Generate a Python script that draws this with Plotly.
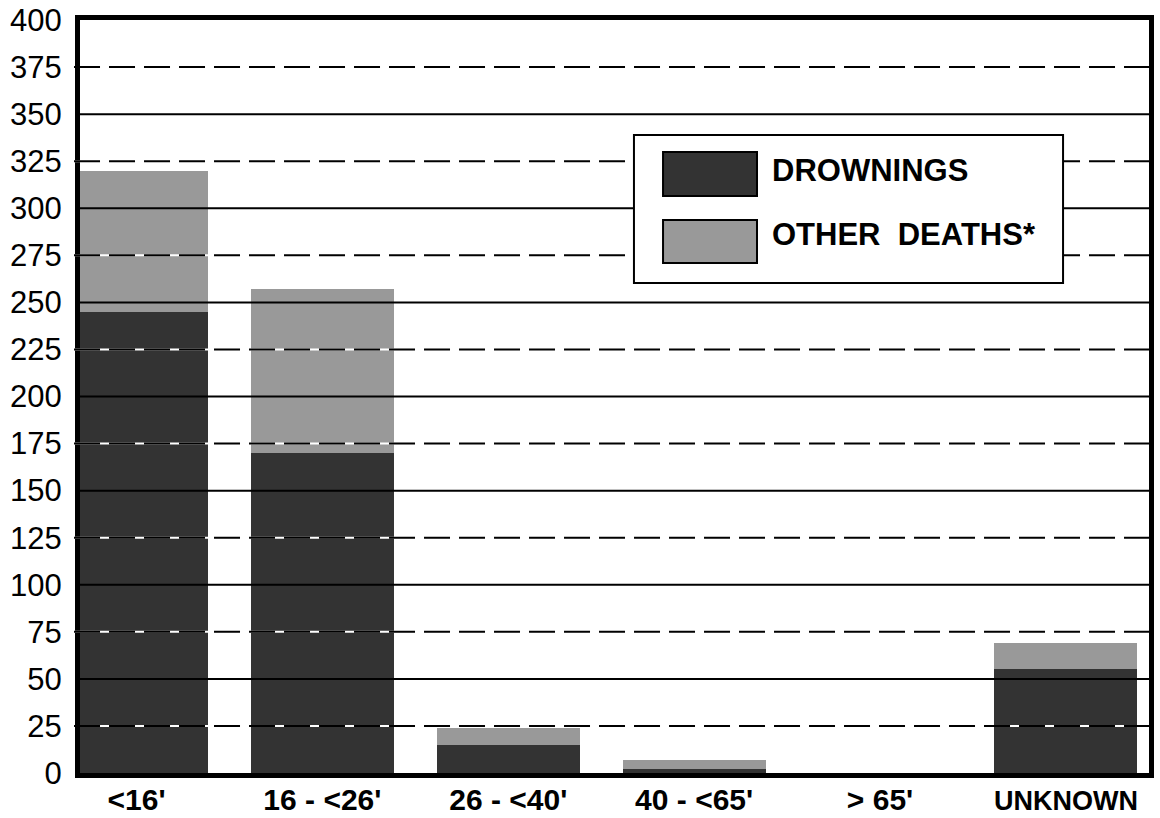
import plotly.graph_objects as go

# ---- data ----
categories = ["<16'", "16 - <26'", "26 - <40'", "40 - <65'", "> 65'", "UNKNOWN"]
drownings = [245, 170, 15, 2, 0, 55]
other_deaths = [75, 87, 9, 5, 0, 14]
y_tick_values = list(range(0, 401, 25))
solid_grid = list(range(50, 351, 50))
dashed_grid = list(range(25, 376, 50))
series_names = ["DROWNINGS", "OTHER\u00a0 DEATHS*"]

DARK = "#333333"
GRAY = "#999999"
FONT = "Liberation Sans, Arial, sans-serif"

fig = go.Figure()
fig.add_trace(go.Bar(x=categories, y=drownings, name=series_names[0],
                     marker=dict(color=DARK, line=dict(width=0)), showlegend=False))
fig.add_trace(go.Bar(x=categories, y=other_deaths, name=series_names[1],
                     marker=dict(color=GRAY, line=dict(width=0)), showlegend=False))

shapes = []
# grid lines drawn above bars
for v in solid_grid:
    shapes.append(dict(type="line", xref="paper", yref="y", x0=0, x1=1, y0=v, y1=v,
                       line=dict(color="black", width=2), layer="above"))
for v in dashed_grid:
    shapes.append(dict(type="line", xref="paper", yref="y", x0=-0.0056, x1=1, y0=v, y1=v,
                       line=dict(color="white", width=2), layer="above"))
    shapes.append(dict(type="line", xref="paper", yref="y", x0=-0.0056, x1=1, y0=v, y1=v,
                       line=dict(color="black", width=2, dash="26px,9px"), layer="above"))

# legend box
shapes.append(dict(type="rect", xref="paper", yref="paper", x0=0.5182, x1=0.9196,
                   y0=0.6507, y1=0.8473, line=dict(color="black", width=2),
                   fillcolor="white", layer="above"))
sw = [(0.8247, 0.7663, DARK), (0.7344, 0.6773, GRAY)]
for y1, y0, c in sw:
    shapes.append(dict(type="rect", xref="paper", yref="paper", x0=0.5454, x1=0.6333,
                       y0=y0, y1=y1, line=dict(color="black", width=2),
                       fillcolor=c, layer="above"))

annotations = []
for name, yc in zip(series_names, [0.8001, 0.7151]):
    annotations.append(dict(text=name, xref="paper", yref="paper", x=0.6455, y=yc,
                            xanchor="left", yanchor="middle", showarrow=False,
                            font=dict(family=FONT, size=31, color="black",
                                      weight="bold")))

tick_text = [c if c != "UNKNOWN" else "<span style='font-size:27px'>%s</span>" % c
             for c in categories]

fig.update_layout(
    barmode="stack",
    bargap=0.23,
    width=1160, height=818,
    margin=dict(l=80, r=11, t=20, b=45),
    paper_bgcolor="white", plot_bgcolor="white",
    shapes=shapes, annotations=annotations,
    showlegend=False,
    xaxis=dict(range=[-0.304, 5.447], showgrid=False, showline=True, linecolor="black",
               linewidth=5, mirror=True, ticks="", zeroline=False, automargin=False,
               tickmode="array", tickvals=categories, ticktext=tick_text,
               ticklabelstandoff=-4,
               tickfont=dict(family=FONT, size=30, color="black", weight="bold")),
    yaxis=dict(range=[0, 400], tickvals=y_tick_values, showgrid=False, showline=True,
               linecolor="black", linewidth=5, mirror=True, ticks="", zeroline=False,
               ticklabelstandoff=7, automargin=False,
               tickfont=dict(family=FONT, size=31, color="black")),
)

fig.write_html("out.html", config={"displayModeBar": False},
               post_script="document.body.style.margin='0';document.body.style.overflow='hidden';")
